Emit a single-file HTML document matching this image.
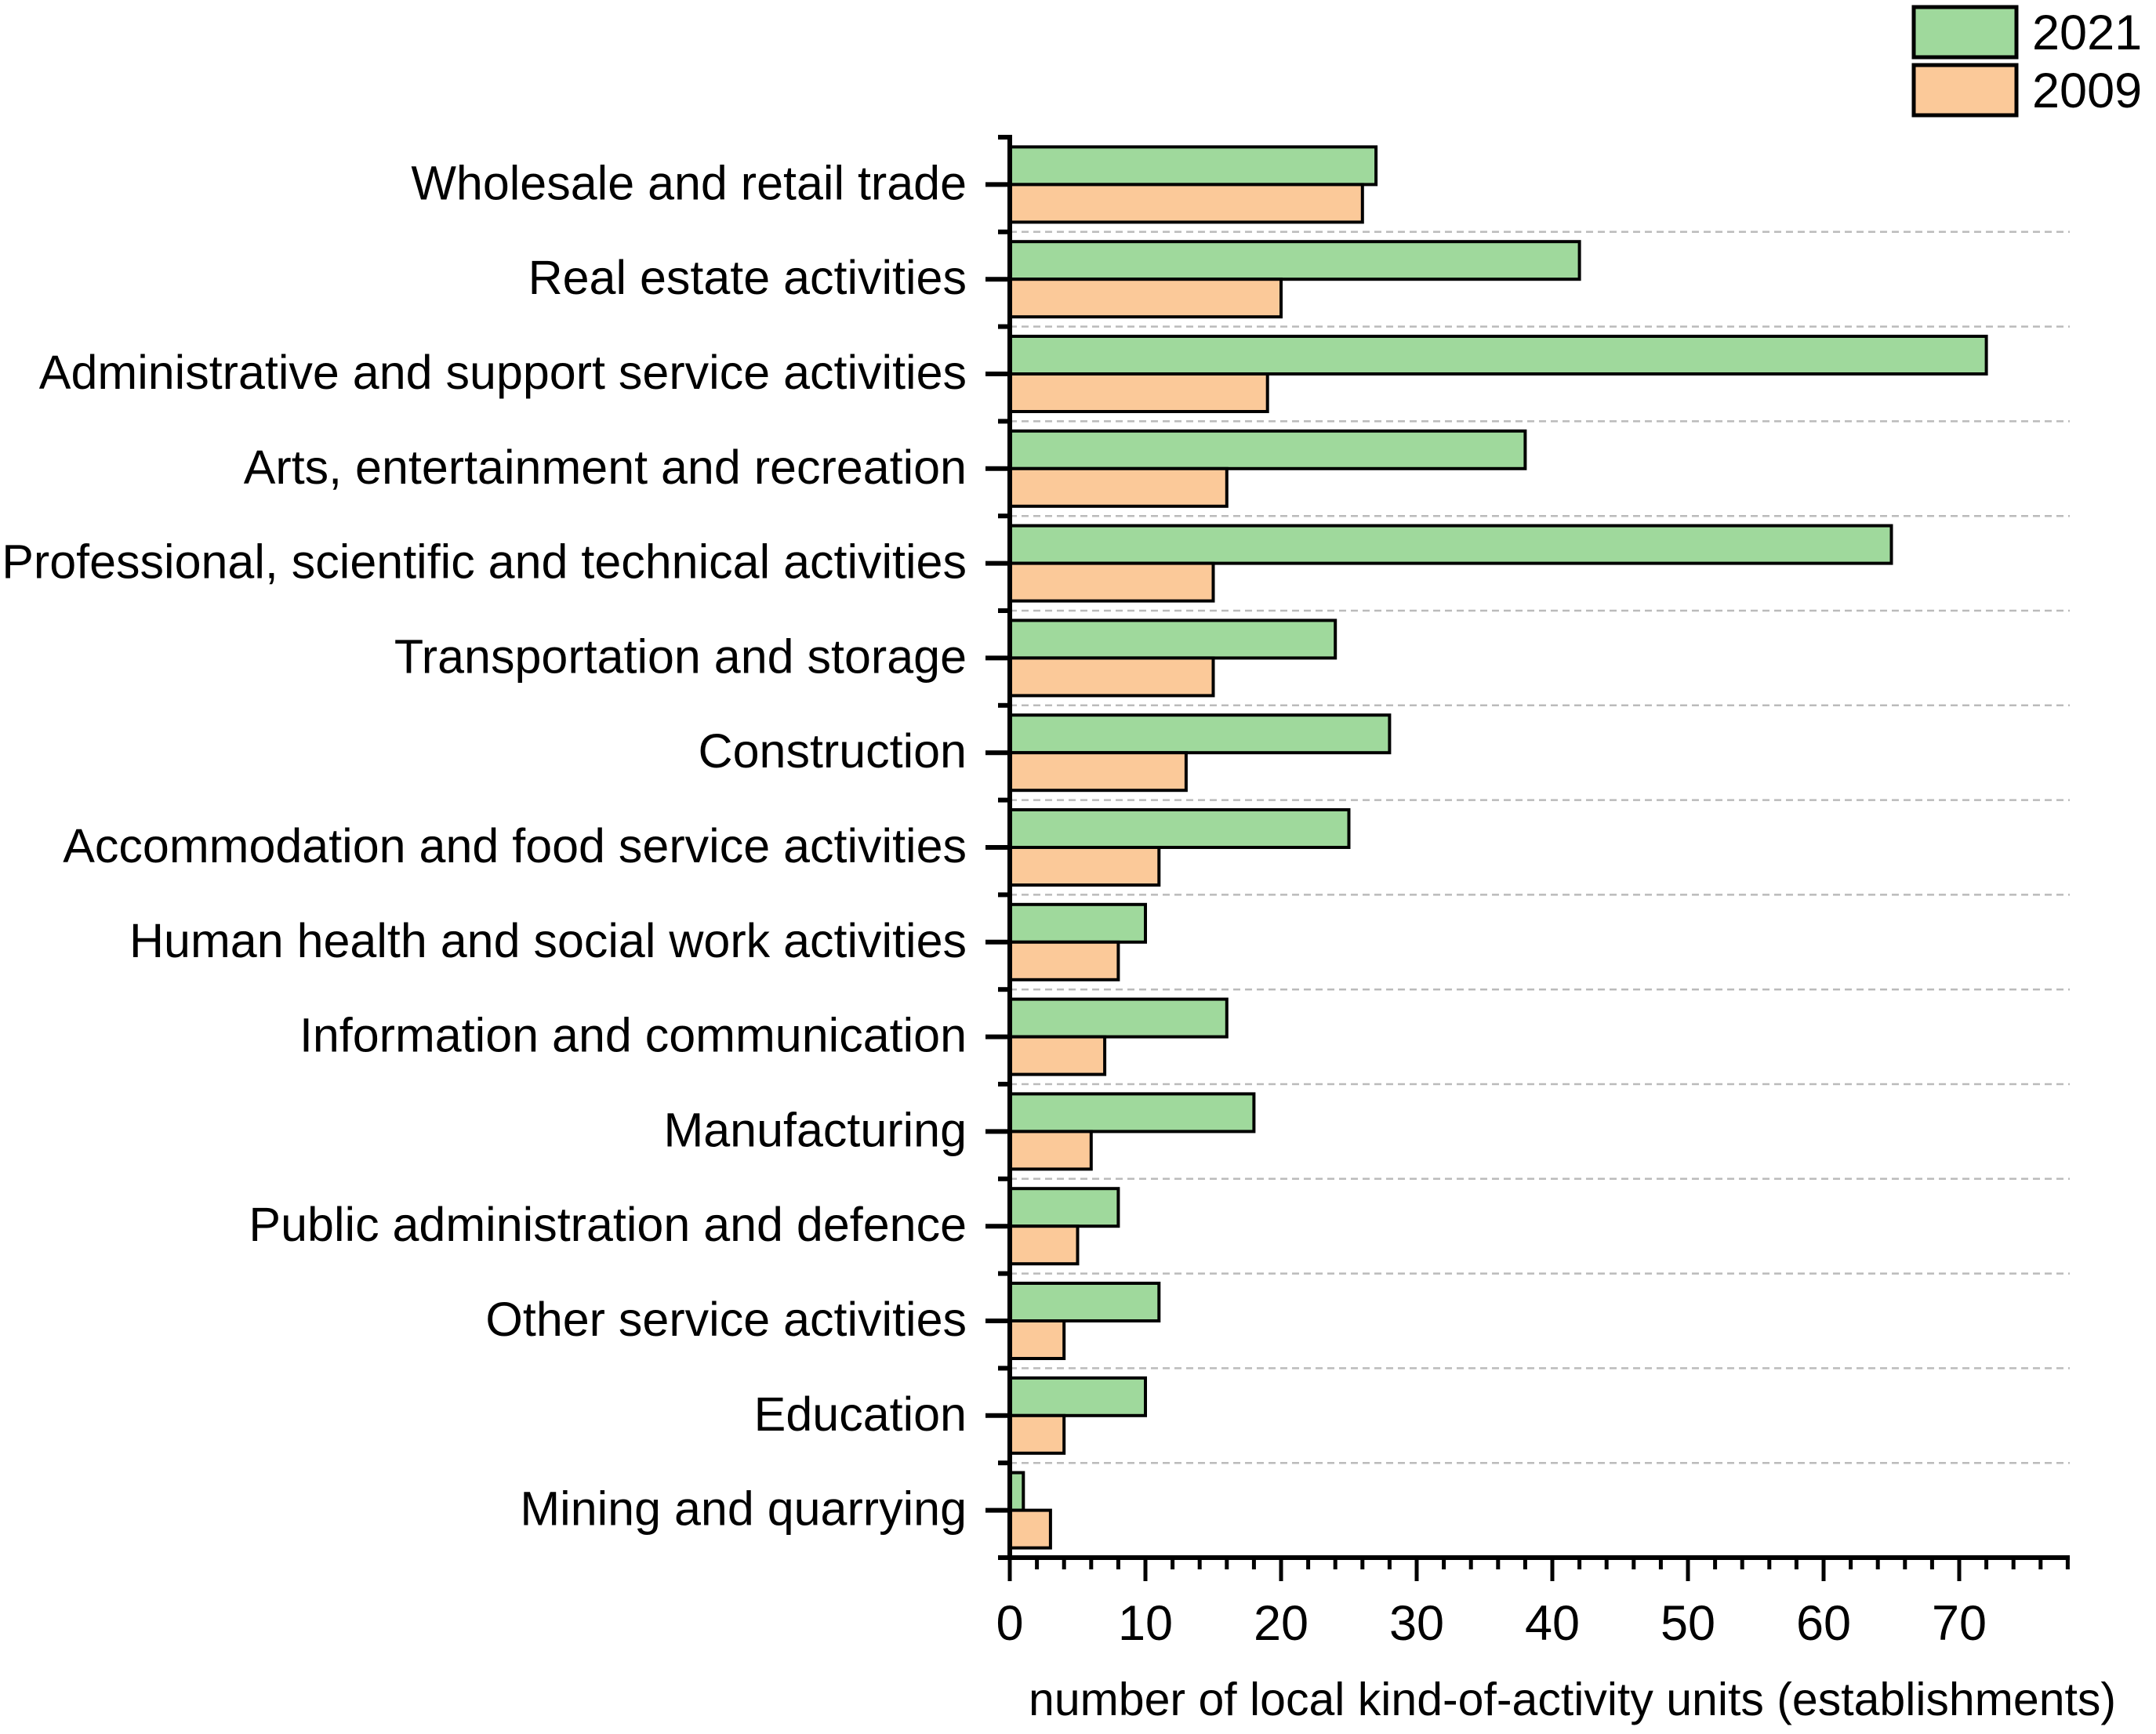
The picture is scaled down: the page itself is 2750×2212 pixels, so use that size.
<!DOCTYPE html>
<html><head><meta charset="utf-8"><style>
html,body{margin:0;padding:0;background:#fff}
svg text{font-family:"Liberation Sans",Arial,sans-serif;fill:#000}
</style></head><body>
<svg id="chart" xmlns="http://www.w3.org/2000/svg" width="2750" height="2207" viewBox="0 0 2750 2207">
<g id="grid"></g>
<g id="bars"></g>
<g id="axes"></g>
<g id="legend">
  <rect x="2441" y="9" width="131" height="64" fill="#9fd99c" stroke="#000" stroke-width="5"/>
  <text x="2592" y="63" font-size="63">2021</text>
  <rect x="2441" y="83" width="131" height="64" fill="#fbc999" stroke="#000" stroke-width="5"/>
  <text x="2592" y="137" font-size="63">2009</text>
</g>
<text x="1312" y="2188" font-size="59">number of local kind-of-activity units (establishments)</text>
</svg>
<script>
const categories = ["Wholesale and retail trade","Real estate activities","Administrative and support service activities","Arts, entertainment and recreation","Professional, scientific and technical activities","Transportation and storage","Construction","Accommodation and food service activities","Human health and social work activities","Information and communication","Manufacturing","Public administration and defence","Other service activities","Education","Mining and quarrying"];
const values2021 = [27,42,72,38,65,24,28,25,10,16,18,8,11,10,1];
const values2009 = [26,20,19,16,15,15,13,11,8,7,6,5,4,4,3];
const xTicks = [0,10,20,30,40,50,60,70];
const xMax = 78;

const NS = "http://www.w3.org/2000/svg";
const x0 = 1288, x1 = 2640, yTop = 175, yBot = 1987;
const band = (yBot - yTop) / categories.length;
const barH = 48;
function xs(v){ return x0 + v * (2499 - 1288) / 70; }
function yc(i){ return yTop + band * (i + 0.5); }
function mk(tag, attrs, parent){
  const e = document.createElementNS(NS, tag);
  for (const k in attrs) e.setAttribute(k, attrs[k]);
  parent.appendChild(e);
  return e;
}
const grid = document.getElementById('grid');
const bars = document.getElementById('bars');
const axes = document.getElementById('axes');

for (let i = 1; i < categories.length; i++) {
  const y = yTop + band * i;
  const g = mk('line', {x1:x0, x2:x1, y1:y, y2:y, stroke:'#bbb', 'stroke-width':2.5, 'stroke-dasharray':'9 6'}, grid);
  
  
}

categories.forEach((c, i) => {
  const y = yc(i);
  const gb = mk('rect', {x:x0, y:y - barH, width:xs(values2021[i]) - x0, height:barH, fill:'#9fd99c', stroke:'#000', 'stroke-width':4}, bars);
  
  
  const ob = mk('rect', {x:x0, y:y, width:xs(values2009[i]) - x0, height:barH, fill:'#fbc999', stroke:'#000', 'stroke-width':4}, bars);
  
  
  const t = mk('text', {x:1233, y:y + 19, 'font-size':61, 'text-anchor':'end'}, axes);
  t.textContent = c;
  
  
  const tk = mk('line', {x1:1257, x2:x0, y1:y, y2:y, stroke:'#000', 'stroke-width':6}, axes);
  
  
});
for (let i = 0; i <= categories.length; i++) {
  const y = yTop + band * i;
  const tk = mk('line', {x1:1273, x2:x0, y1:y, y2:y, stroke:'#000', 'stroke-width':6}, axes);
  
  
}
const ya = mk('line', {x1:x0, x2:x0, y1:yTop - 3, y2:yBot + 3, stroke:'#000', 'stroke-width':6}, axes);


const xa = mk('line', {x1:1273, x2:x1, y1:yBot, y2:yBot, stroke:'#000', 'stroke-width':6}, axes);


for (let v = 0; v <= xMax; v += 2) {
  const major = v % 10 === 0;
  const tk = mk('line', {x1:xs(v), x2:xs(v), y1:yBot, y2:yBot + (major ? 30 : 15), stroke:'#000', 'stroke-width':5}, axes);
  
  
}
xTicks.forEach(v => {
  const t = mk('text', {x:xs(v), y:2092, 'font-size':63, 'text-anchor':'middle'}, axes);
  t.textContent = v;
  
  
});
</script>
</body></html>
